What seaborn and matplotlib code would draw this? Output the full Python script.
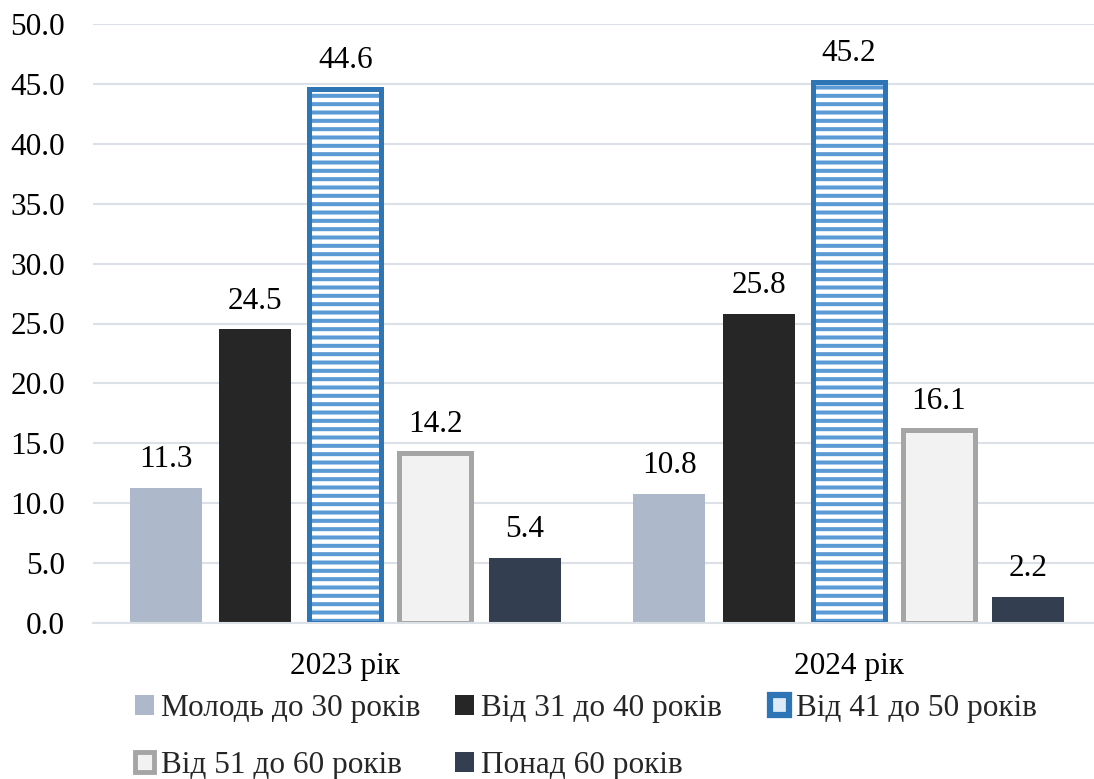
import matplotlib
matplotlib.use("Agg")
import matplotlib.pyplot as plt
from matplotlib.patches import Patch, Rectangle
from matplotlib.font_manager import FontProperties
import seaborn as sns
import pandas as pd

# Age structure of staff, %
years = ["2023 рік", "2024 рік"]
groups = [
    "Молодь до 30 років",
    "Від 31 до 40 років",
    "Від 41 до 50 років",
    "Від 51 до 60 років",
    "Понад 60 років",
]
values_2023 = [11.3, 24.5, 44.6, 14.2, 5.4]
values_2024 = [10.8, 25.8, 45.2, 16.1, 2.2]
y_ticks = [0, 5, 10, 15, 20, 25, 30, 35, 40, 45, 50]

df = pd.DataFrame({
    "year": [years[0]] * len(groups) + [years[1]] * len(groups),
    "group": groups * 2,
    "value": values_2023 + values_2024,
})

sns.set_theme(style="white")
FONT = "Liberation Serif"
plt.rcParams["font.family"] = FONT
plt.rcParams["font.serif"] = [FONT, "DejaVu Serif"]
plt.rcParams["hatch.linewidth"] = 2.9
FS = 22.5
font = FontProperties(family=FONT, size=FS)

fill_colors = ["#ADB9CA", "#262626", "#FFFFFF", "#F2F2F2", "#333F50"]
grid_color = "#DCE1E8"

fig = plt.figure(figsize=(10.94, 7.79), dpi=100)
ax = fig.add_axes([93 / 1094, 156 / 779, 1 - 93 / 1094, (623 - 24) / 779])

sns.barplot(
    data=df, x="year", y="value", hue="group", hue_order=groups,
    palette=fill_colors, width=0.892, gap=0.198, linewidth=0,
    saturation=1, legend=False, ax=ax,
)

ax.set_ylim(0, 50)
ax.set_xlim(-0.501, 1.487)
ax.set_yticks(y_ticks)
ax.set_yticklabels([f"{t:.1f}" for t in y_ticks])
ax.yaxis.grid(True, color=grid_color, linewidth=1.5)
ax.set_axisbelow(True)
for side in ["left", "right", "top"]:
    ax.spines[side].set_visible(False)
ax.spines["bottom"].set_color(grid_color)
ax.spines["bottom"].set_linewidth(1.5)
ax.tick_params(axis="both", length=0, colors="black")
ax.tick_params(axis="y", pad=20)
ax.tick_params(axis="x", pad=21)
for lbl in ax.get_xticklabels() + ax.get_yticklabels():
    lbl.set_fontproperties(font)
ax.set_xlabel("")
ax.set_ylabel("")

hatch_blue = "#5B9BD5"
edge_blue = "#2E75B6"
edge_gray = "#A5A5A5"

# Striped bars for the 41-50 group with a heavy blue frame
for bar in ax.containers[2]:
    bar.set_facecolor("white")
    bar.set_hatch("--")
    if hasattr(bar, "set_hatchcolor"):
        bar.set_hatchcolor(hatch_blue)
        bar.set_edgecolor(edge_blue)
        bar.set_linewidth(3.6)
    else:
        bar.set_edgecolor(hatch_blue)
        bar.set_linewidth(0)
        frame = Rectangle(bar.get_xy(), bar.get_width(), bar.get_height(),
                          fill=False, edgecolor=edge_blue, linewidth=3.6,
                          zorder=bar.get_zorder() + 0.1)
        ax.add_patch(frame)

# Light bars for the 51-60 group with a gray frame
for bar in ax.containers[3]:
    bar.set_edgecolor(edge_gray)
    bar.set_linewidth(3.6)

for cont in ax.containers:
    for t in ax.bar_label(cont, fmt="%.1f", padding=10, color="black"):
        t.set_fontproperties(font)

handles = [
    Patch(facecolor=fill_colors[0], edgecolor="none"),
    Patch(facecolor=fill_colors[1], edgecolor="none"),
    Patch(facecolor="#DDEBF7", edgecolor=edge_blue, linewidth=4.5),
    Patch(facecolor=fill_colors[3], edgecolor=edge_gray, linewidth=3.5),
    Patch(facecolor=fill_colors[4], edgecolor="none"),
]

# Legend laid out as fixed-width columns: two rows, entries read left to right
columns = [[0, 3], [1, 4], [2]]
column_x = [135, 455, 770]
for idx, x0 in zip(columns, column_x):
    fig.legend(
        [handles[i] for i in idx], [groups[i] for i in idx],
        ncol=1, loc="upper left",
        bbox_to_anchor=(x0 / 1094, 1 - 694 / 779),
        frameon=False, prop=font, handlelength=0.62, handleheight=0.62,
        handletextpad=0.22, labelspacing=0.9,
        borderaxespad=0, borderpad=0,
    )

fig.savefig("out.png", dpi=100)
